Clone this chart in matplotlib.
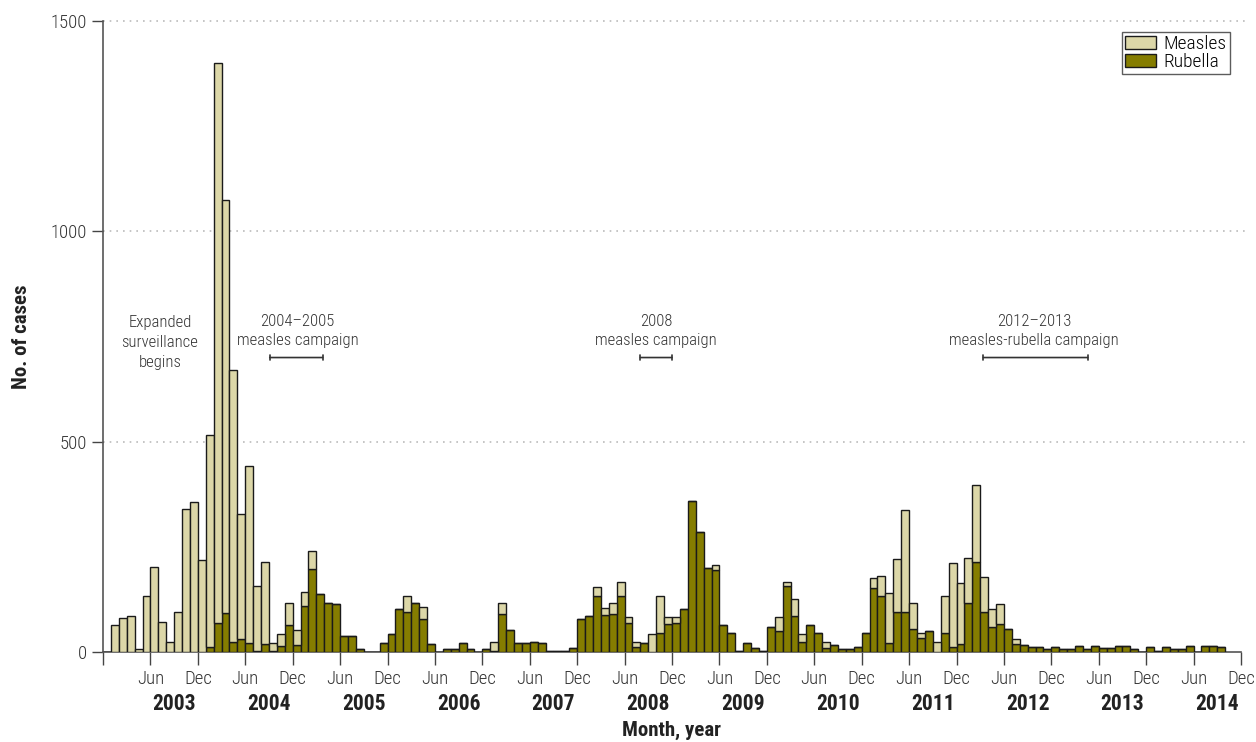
import matplotlib
matplotlib.use("Agg")
import matplotlib.pyplot as plt
import numpy as np

plt.rcParams["font.family"] = ["Roboto Condensed", "Liberation Sans", "DejaVu Sans"]
plt.rcParams["font.weight"] = "light"

# monthly cases, slot 0 = Dec 2002 ... slot 141 = Sep 2014
totals = [
    0, 65, 81, 86, 8, 133, 203, 71, 24, 94, 339, 356, 218,
    516, 1399, 1074, 671, 329, 441, 157, 213, 21, 43, 116, 53,
    142, 241, 137, 117, 113, 39, 39, 6, 0, 0, 21, 42,
    102, 133, 117, 108, 18, 0, 6, 6, 21, 6, 0, 6,
    23, 117, 52, 21, 21, 23, 21, 3, 3, 3, 10, 79,
    85, 154, 104, 117, 167, 83, 24, 21, 43, 133, 83, 83,
    103, 358, 286, 200, 206, 64, 46, 3, 21, 10, 3, 59,
    83, 167, 126, 43, 64, 46, 23, 16, 6, 6, 11, 46,
    177, 180, 141, 222, 337, 117, 46, 49, 24, 134, 211, 164,
    223, 396, 178, 102, 113, 55, 30, 16, 11, 11, 6, 11,
    6, 6, 14, 6, 14, 9, 9, 14, 14, 6, 0, 11,
    3, 11, 6, 6, 14, 0, 14, 14, 11,
]
rubella = [
    0, 0, 0, 0, 0, 0, 0, 0, 0, 0, 0, 0, 0,
    11, 68, 92, 24, 32, 21, 2, 18, 3, 14, 64, 17,
    110, 197, 137, 117, 113, 39, 39, 6, 0, 0, 21, 42,
    102, 94, 117, 79, 18, 0, 6, 6, 21, 6, 0, 6,
    2, 91, 52, 21, 21, 23, 21, 3, 3, 3, 10, 79,
    85, 132, 88, 91, 132, 68, 13, 21, 0, 46, 66, 68,
    103, 358, 286, 200, 195, 64, 46, 3, 21, 10, 3, 59,
    49, 156, 85, 23, 64, 46, 10, 16, 6, 6, 11, 46,
    152, 132, 21, 94, 94, 54, 33, 49, 0, 46, 11, 20,
    117, 214, 94, 59, 67, 55, 20, 16, 11, 11, 6, 11,
    6, 6, 14, 6, 14, 9, 9, 14, 14, 6, 0, 11,
    3, 11, 6, 6, 14, 0, 14, 14, 11,
]
years = [str(y) for y in range(2003, 2015)]
month_labels = ["Jun", "Dec"] * 12

measles = np.array(totals) - np.array(rubella)
x = np.arange(len(totals))

fig = plt.figure(figsize=(12.56, 7.42), dpi=100)
ax = fig.add_axes([103 / 1256, 1 - 652 / 742, 1138 / 1256, 631 / 742])

c_measles = "#dcd7a8"
c_rubella = "#857d00"
ax.bar(x, rubella, width=1, align="edge", color=c_rubella, edgecolor="#1a1a1a",
       linewidth=1, label="Rubella", zorder=3)
ax.bar(x, measles, width=1, align="edge", bottom=rubella, color=c_measles,
       edgecolor="#1a1a1a", linewidth=1, label="Measles", zorder=3)

ax.set_xlim(0, 144)
ax.set_ylim(0, 1500)
ax.set_yticks([0, 500, 1000, 1500])
for yv in [500, 1000, 1500]:
    ax.plot([0, 145], [yv, yv], color="#bbbbbb", linestyle=(0, (1, 3)),
            linewidth=1.2, clip_on=False, zorder=1)

ax.set_xticks(np.arange(0, 145, 6))
ax.set_xticklabels([""] + month_labels)
ax.tick_params(axis="x", length=9, width=1, color="#444444", pad=4,
               labelsize=13.5, labelcolor="#333333")
ax.tick_params(axis="y", length=8, width=1, color="#444444",
               labelsize=13.5, labelcolor="#333333")

for sp in ["top", "right"]:
    ax.spines[sp].set_visible(False)
for sp in ["left", "bottom"]:
    ax.spines[sp].set_color("#555555")
    ax.spines[sp].set_linewidth(1.2)

for i, yr in enumerate(years):
    ax.text(9 + 12 * i, -0.083, yr, transform=ax.get_xaxis_transform(),
            ha="center", va="center", fontsize=15.5, fontweight="bold",
            color="#222222")
ax.text(72, -0.124, "Month, year", transform=ax.get_xaxis_transform(),
        ha="center", va="center", fontsize=15, fontweight="bold", color="#222222")
ax.set_ylabel("No. of cases", fontsize=15, fontweight="bold", color="#222222",
              labelpad=14)

# campaign annotations
txt = dict(ha="center", va="center", fontsize=12, color="#333333",
           linespacing=1.4)
ax.text(7.2, 736, "Expanded\nsurveillance\nbegins", **txt)
ax.text(24.6, 763, "2004\u20132005\nmeasles campaign", **txt)
ax.text(70, 763, "2008\nmeasles campaign", **txt)
ax.text(117.8, 763, "2012\u20132013\nmeasles-rubella campaign", **txt)
for x0, x1 in [(21.1, 27.8), (68, 72), (111.4, 124.6)]:
    ax.annotate("", xy=(x0, 700), xytext=(x1, 700),
                arrowprops=dict(arrowstyle="|-|, widthA=0.2, widthB=0.2",
                                color="#333333", lw=1.2, shrinkA=0, shrinkB=0))

handles, labels = ax.get_legend_handles_labels()
leg = ax.legend(handles[::-1], labels[::-1], loc="upper right",
                bbox_to_anchor=(0.99, 0.982), fontsize=14, frameon=True,
                fancybox=False, edgecolor="#333333", handlelength=1.6,
                handleheight=0.6, borderpad=0.15, labelspacing=0.0,
                handletextpad=0.4, borderaxespad=0)
leg.get_frame().set_linewidth(1)

fig.savefig("out.png", dpi=100)
